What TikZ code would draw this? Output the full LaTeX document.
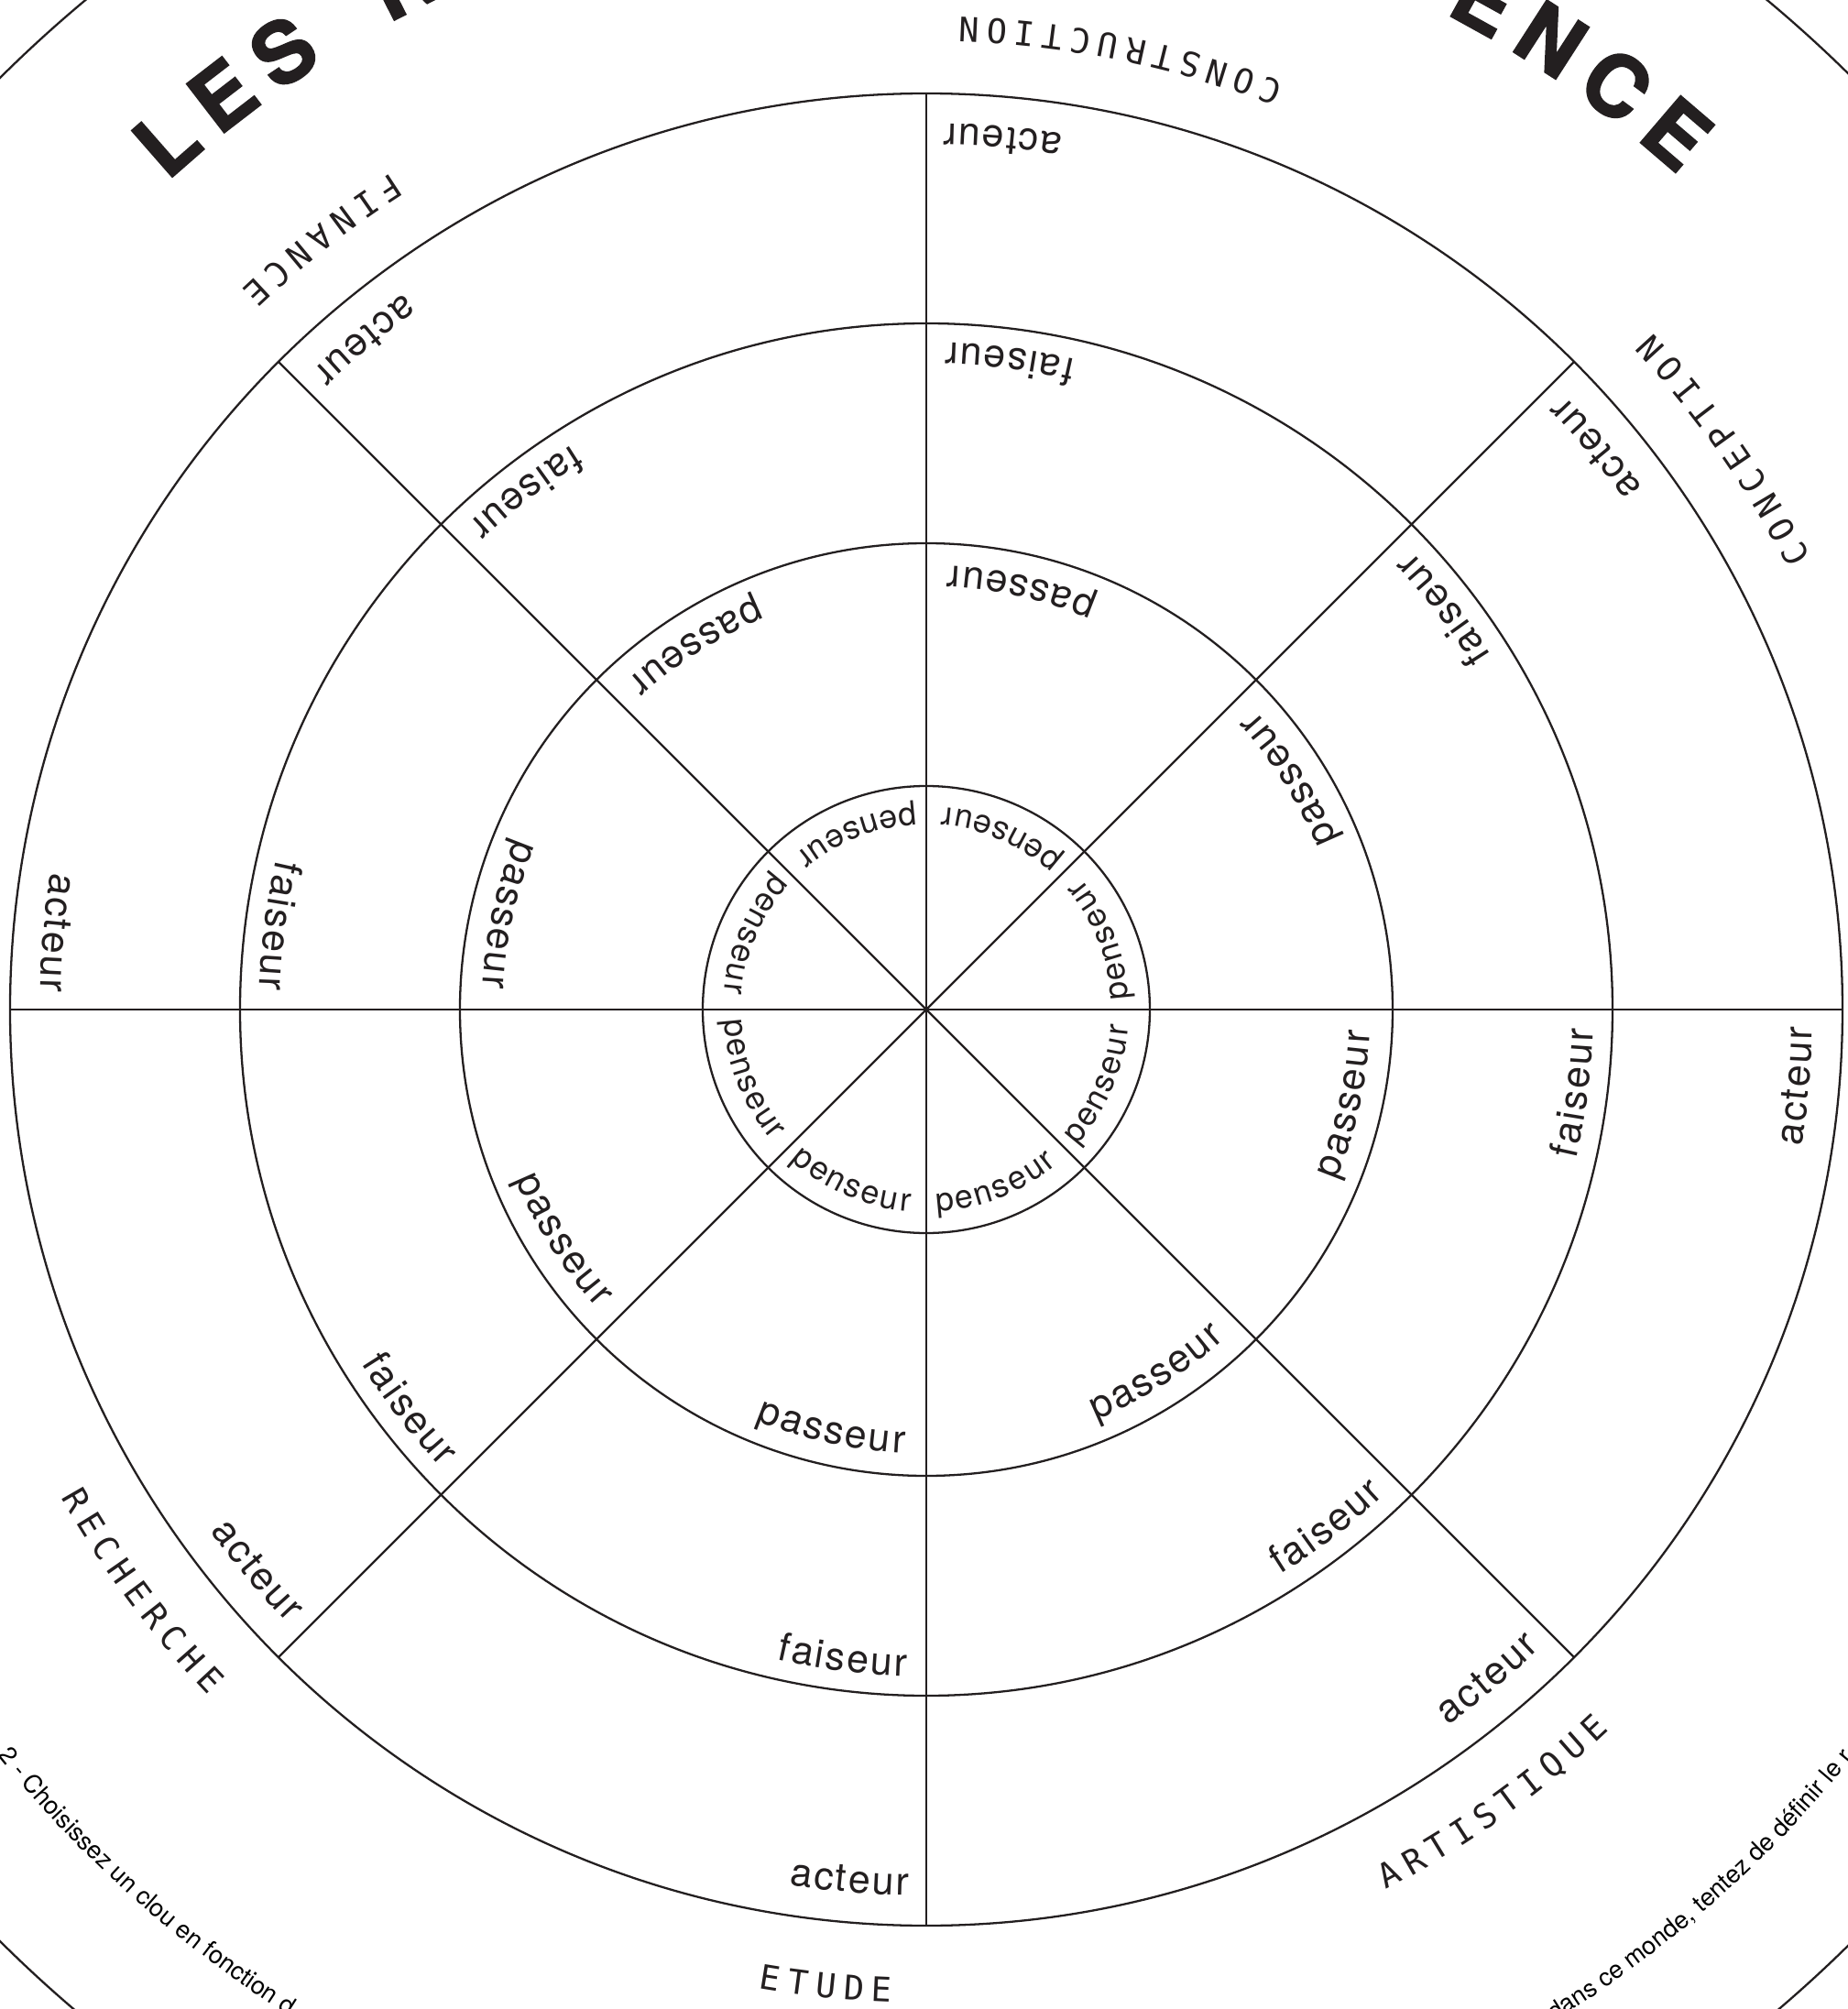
\documentclass[tikz,border=0pt]{standalone}
\usepackage{fontspec}
\usepackage{tikz}
\usetikzlibrary{decorations.text}

\definecolor{ink}{HTML}{231F20}
\newfontfamily\ringfont{texgyreheros-regular.otf}
\newfontfamily\catfont{DejaVu Sans Mono}
\newfontfamily\titlefont{texgyreheros-bold.otf}[FakeBold=2]

\newcommand\ringf{\ringfont\fontsize{12.2pt}{14pt}\selectfont}
\newcommand\innerf{\ringfont\fontsize{10.2pt}{12pt}\selectfont}
\newcommand\catf{\catfont\fontsize{10.5pt}{12pt}\selectfont}
\newcommand\titlef{\titlefont\fontsize{26.2pt}{30pt}\selectfont}
\newcommand\notef{\ringfont\fontsize{7.7pt}{9pt}\selectfont}

% letter-spaced word on a circle:
% #1 word, #2 font, #3 radius (cm), #4 angle, #5 letter spacing,
% #6 = 1: ccw, ends at #4; #6 = -1: cw, starts at #4
\makeatletter
\newdimen\arc@tot \newdimen\arc@pos
\newcommand\arc@measure[2]{% width of one letter -> \arc@cw
  \pgfinterruptpicture\setbox\z@\hbox{#1#2}\xdef\arc@cw{\the\wd\z@}\endpgfinterruptpicture}
\newcommand\arcword[6]{%
  \global\arc@tot=-#5\relax
  \@tfor\arc@c:=#1\do{\arc@measure{#2}{\arc@c}%
    \global\advance\arc@tot by\arc@cw \global\advance\arc@tot by #5\relax}%
  \pgfmathsetmacro\arc@rad{#3*28.45274}%
  \pgfmathsetmacro\arc@s{#4-(#6+1)/2*\the\arc@tot/\arc@rad*57.29578}%
  \global\arc@pos=0pt
  \@tfor\arc@c:=#1\do{\arc@measure{#2}{\arc@c}%
    \pgfmathsetmacro\arc@ang{\arc@s+#6*(\the\arc@pos+0.5*\arc@cw)/\arc@rad*57.29578}%
    \node[anchor=base,inner sep=0pt,font=#2,rotate=\arc@ang+#6*90] at (\arc@ang:#3) {\arc@c};
    \global\advance\arc@pos by\arc@cw \global\advance\arc@pos by #5\relax}%
}
\makeatother

\begin{document}
\begin{tikzpicture}[
  color=ink,
  ring/.style={draw=ink,line width=0.65pt},
  spoke/.style={draw=ink,line width=0.65pt}
]
\useasboundingbox (-10.11,-10.91) rectangle (10.06,11.02);
\fill[white] (-10.11,-10.91) rectangle (10.06,11.02);
\clip (-10.11,-10.91) rectangle (10.06,11.02);

% rings
\foreach \r in {14.34,10,7.49,5.09,2.44}
  \path[ring] (0,0) circle[radius=\r];
\foreach \a in {0,45,...,315}
  \path[spoke] (0,0) -- (\a:10);

% roles in each sector
\foreach \a in {0,45,...,315}{
  \arcword{acteur}{\ringf}{9.67}{\a-1.13}{0.7pt}{1}
  \arcword{faiseur}{\ringf}{7.28}{\a-1.65}{0.7pt}{1}
  \arcword{passeur}{\ringf}{4.85}{\a-2.8}{0.7pt}{1}
  \arcword{penseur}{\innerf}{2.21}{\a-4.7}{0.7pt}{1}
}

% domains
\arcword{CONCEPTION}{\catf}{10.84}{43.0}{2.5pt}{1}
\arcword{CONSTRUCTION}{\catf}{10.84}{88.1}{2.5pt}{1}
\arcword{FINANCE}{\catf}{10.84}{133.6}{2.5pt}{1}
\arcword{RECHERCHE}{\catf}{10.84}{223.7}{2.5pt}{1}
\arcword{ETUDE}{\catf}{10.84}{268.0}{2.5pt}{1}
\arcword{ARTISTIQUE}{\catf}{10.84}{313.5}{2.5pt}{1}

% title
\arcword{LES}{\titlef}{12.26}{132.5}{5.2pt}{-1}
\arcword{R}{\titlef}{12.26}{118.6}{5.2pt}{-1}
\arcword{ENCE}{\titlef}{12.26}{62.5}{5.2pt}{-1}

% notes
\path[decorate,decoration={text along path,text={|\notef|2 - Choisissez un clou en fonction d},text align=left}]
  (218.8:13) arc[start angle=218.8,end angle=250,radius=13];
\path[decorate,decoration={text along path,text={|\notef|dans ce monde, tentez de définir le r},text align=left}]
  (301.8:13) arc[start angle=301.8,end angle=330,radius=13];
\end{tikzpicture}
\end{document}
